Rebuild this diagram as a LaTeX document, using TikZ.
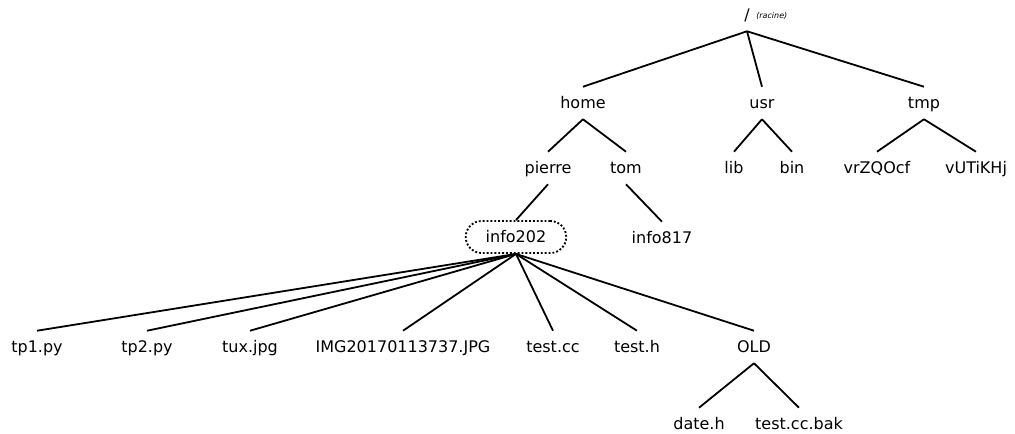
\documentclass[tikz,border=0pt]{standalone}
\usepackage{fontspec}
\setmainfont{DejaVu Sans}
\tikzset{>=stealth}
\tikzset{
  dir/.style={font=\fontsize{12}{14}\selectfont, text height=12.5pt, text depth=3.5pt, inner xsep=2pt, inner ysep=4pt},
  cwd/.style={dir, draw, dash pattern=on 1.4pt off 1.5pt, line width=1.4pt, rounded corners=12pt, inner xsep=15pt},
  branch/.style={line width=1.35pt}
}

\begin{document}
\begin{tikzpicture}[x=0.75pt, y=-0.75pt]
    \useasboundingbox (0,0) rectangle (1015,434);
    % root
    \node[dir] (root) at (747,15) {/};
    \node[anchor=base west, inner sep=0pt, font=\fontsize{6}{7}\selectfont\itshape] (racine) at (756,19) {(racine)};
    % first level
    \node[dir] (home) at (583,103) {home};
    \node[dir] (usr) at (762,103) {usr};
    \node[dir] (tmp) at (924,103) {tmp};
    % second level
    \node[dir] (pierre) at (548,168) {pierre};
    \node[dir] (tom) at (626,168) {tom};
    \node[dir] (lib) at (734,168) {lib};
    \node[dir] (bin) at (792,168) {bin};
    \node[dir] (vrz) at (877,168) {vrZQOcf};
    \node[dir] (vut) at (976,168) {vUTiKHj};
    % third level
    \node[cwd] (info202) at (516,237) {info202};
    \node[dir] (info817) at (662,238) {info817};
    % contents of info202
    \node[dir] (tp1) at (37,347) {tp1.py};
    \node[dir] (tp2) at (147,347) {tp2.py};
    \node[dir] (tux) at (250,347) {tux.jpg};
    \node[dir] (img) at (403,347) {IMG20170113737.JPG};
    \node[dir] (testcc) at (553,347) {test.cc};
    \node[dir] (testh) at (637,347) {test.h};
    \node[dir] (old) at (754,347) {OLD};
    \node[dir] (dateh) at (699,424) {date.h};
    \node[dir] (bak) at (799,424) {test.cc.bak};

    \draw[branch] (root.south) -- (home.north);
    \draw[branch] (root.south) -- (usr.north);
    \draw[branch] (root.south) -- (tmp.north);
    \draw[branch] (home.south) -- (pierre.north);
    \draw[branch] (home.south) -- (tom.north);
    \draw[branch] (usr.south) -- (lib.north);
    \draw[branch] (usr.south) -- (bin.north);
    \draw[branch] (tmp.south) -- (vrz.north);
    \draw[branch] (tmp.south) -- (vut.north);
    \draw[branch] (pierre.south) -- (info202.north);
    \draw[branch] (tom.south) -- (info817.north);
    \foreach \f in {tp1,tp2,tux,img,testcc,testh,old}
        \draw[branch] (info202.south) -- (\f.north);
    \draw[branch] (old.south) -- (dateh.north);
    \draw[branch] (old.south) -- (bak.north);
\end{tikzpicture}
\end{document}
